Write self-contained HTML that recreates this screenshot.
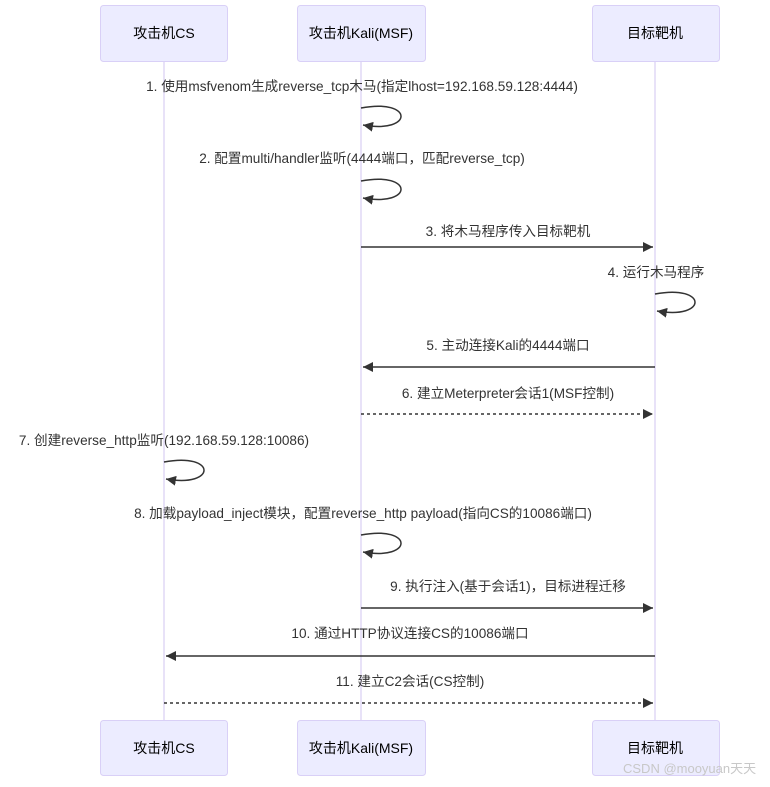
<!DOCTYPE html>
<html><head><meta charset="utf-8"><style>
html,body{margin:0;padding:0;background:#fff;}
svg text{font-family:"Liberation Sans","Noto Sans CJK SC",sans-serif;font-size:13.6px;fill:#333;}
</style></head><body>
<svg width="770" height="782" viewBox="0 0 770 782" xmlns="http://www.w3.org/2000/svg">
<defs>
<marker id="a" markerWidth="12" markerHeight="12" refX="10" refY="5" orient="auto" markerUnits="userSpaceOnUse"><path d="M0,0 L10,5 L0,10 z" fill="#333"/></marker>
</defs>
<g stroke="#e0d8f5" stroke-width="1.5">
<line x1="164" y1="61" x2="164" y2="720"/>
<line x1="361" y1="61" x2="361" y2="720"/>
<line x1="655" y1="61" x2="655" y2="720"/>
</g>
<g fill="#ececff" stroke="#d9d0f7" stroke-width="1">
<rect x="100.5" y="5.5" width="127" height="56" rx="3"/>
<rect x="297.5" y="5.5" width="128" height="56" rx="3"/>
<rect x="592.5" y="5.5" width="127" height="56" rx="3"/>
<rect x="100.5" y="720.5" width="127" height="55" rx="3"/>
<rect x="297.5" y="720.5" width="128" height="55" rx="3"/>
<rect x="592.5" y="720.5" width="127" height="55" rx="3"/>
</g>
<g text-anchor="middle">
<text x="164" y="38" style="font-size:14px;fill:#000">攻击机CS</text>
<text x="361" y="38" style="font-size:14px;fill:#000">攻击机Kali(MSF)</text>
<text x="655" y="38" style="font-size:14px;fill:#000">目标靶机</text>
<text x="164" y="753" style="font-size:14px;fill:#000">攻击机CS</text>
<text x="361" y="753" style="font-size:14px;fill:#000">攻击机Kali(MSF)</text>
<text x="655" y="753" style="font-size:14px;fill:#000">目标靶机</text>
</g>
<g text-anchor="middle">
<text x="362" y="91">1. 使用msfvenom生成reverse_tcp木马(指定lhost=192.168.59.128:4444)</text>
<text x="362" y="163">2. 配置multi/handler监听(4444端口，匹配reverse_tcp)</text>
<text x="508" y="236">3. 将木马程序传入目标靶机</text>
<text x="656" y="277">4. 运行木马程序</text>
<text x="508" y="350">5. 主动连接Kali的4444端口</text>
<text x="508" y="398">6. 建立Meterpreter会话1(MSF控制)</text>
<text x="164" y="445">7. 创建reverse_http监听(192.168.59.128:10086)</text>
<text x="363" y="518">8. 加载payload_inject模块，配置reverse_http payload(指向CS的10086端口)</text>
<text x="508" y="591">9. 执行注入(基于会话1)，目标进程迁移</text>
<text x="410" y="638">10. 通过HTTP协议连接CS的10086端口</text>
<text x="410" y="686">11. 建立C2会话(CS控制)</text>
</g>
<g stroke="#333" stroke-width="1.5" fill="none">
<path d="M361,108 C414,98 414,134 363,125" marker-end="url(#a)"/>
<path d="M361,181 C414,171 414,207 363,198" marker-end="url(#a)"/>
<path d="M655,294 C708,284 708,320 657,311" marker-end="url(#a)"/>
<path d="M164,462 C217,452 217,488 166,479" marker-end="url(#a)"/>
<path d="M361,535 C414,525 414,561 363,552" marker-end="url(#a)"/>
<line x1="361" y1="247" x2="653" y2="247" marker-end="url(#a)"/>
<line x1="655" y1="367" x2="363" y2="367" marker-end="url(#a)"/>
<line x1="361" y1="414" x2="653" y2="414" stroke-dasharray="3,3" marker-end="url(#a)"/>
<line x1="361" y1="608" x2="653" y2="608" marker-end="url(#a)"/>
<line x1="655" y1="656" x2="166" y2="656" marker-end="url(#a)"/>
<line x1="164" y1="703" x2="653" y2="703" stroke-dasharray="3,3" marker-end="url(#a)"/>
</g>
<text x="623" y="773" style="font-size:13px;fill:#c8c8c8">CSDN @mooyuan天天</text>
</svg>
</body></html>
